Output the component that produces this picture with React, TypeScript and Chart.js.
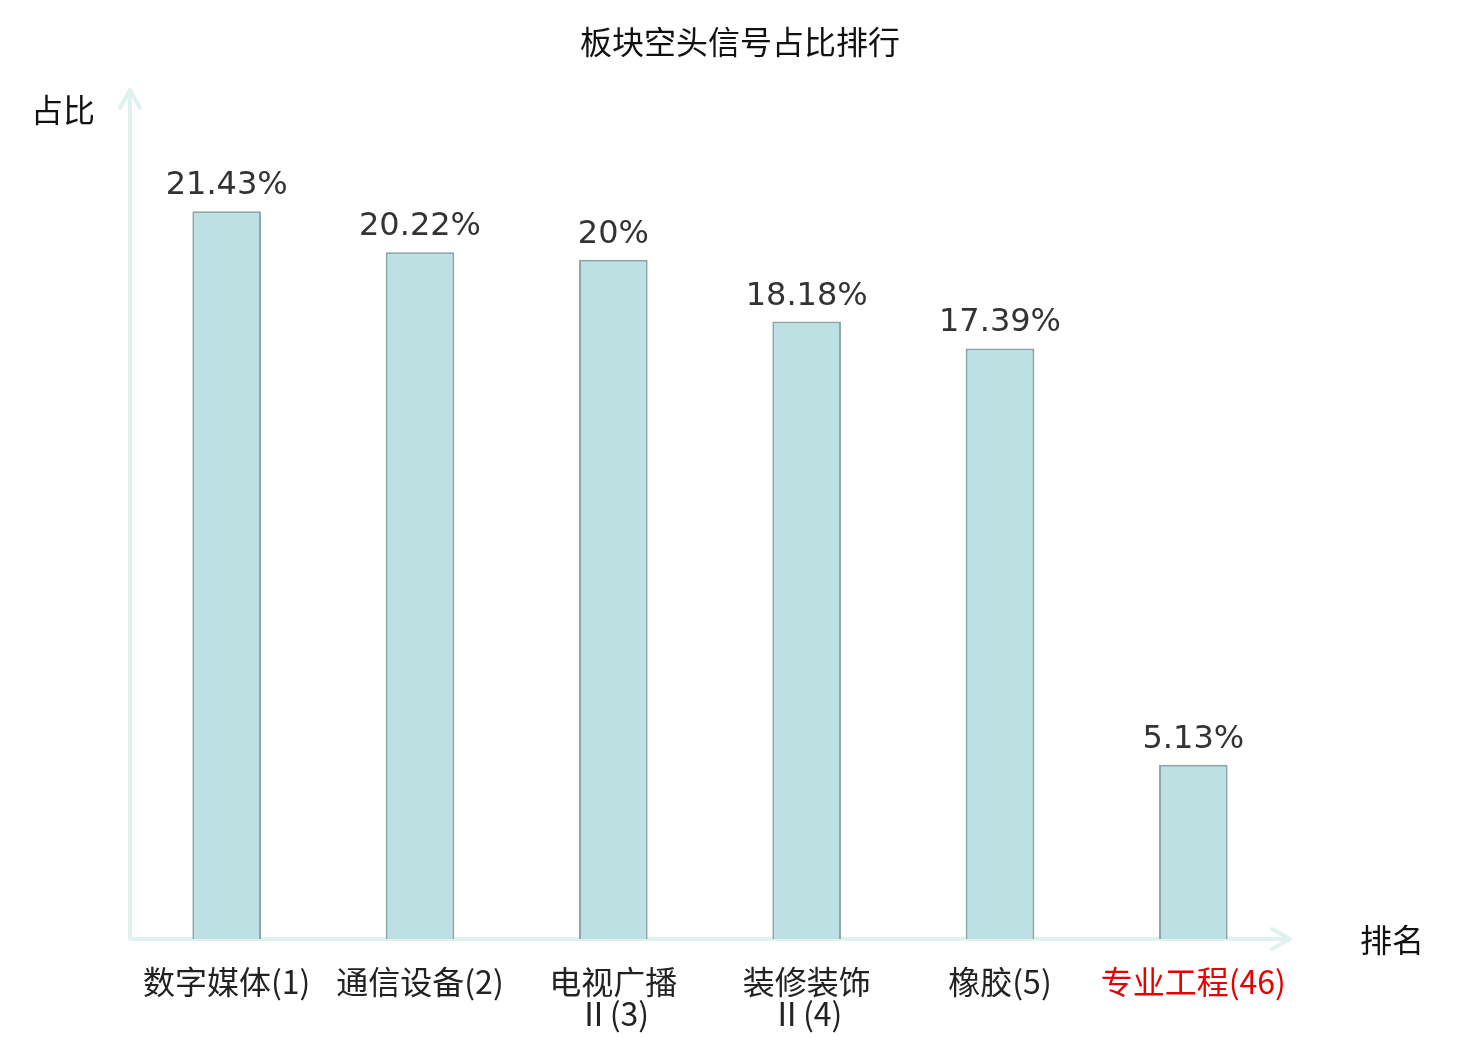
import { useEffect, useRef } from "react";
import { Chart, registerables } from "chart.js";

Chart.register(...registerables);

const categories: (string | string[])[] = [
  "数字媒体(1)",
  "通信设备(2)",
  ["电视广播", "Ⅱ(3)"],
  ["装修装饰", "Ⅱ(4)"],
  "橡胶(5)",
  "专业工程(46)",
];
const shares = [21.43, 20.22, 20, 18.18, 17.39, 5.13];
const shareLabels = ["21.43%", "20.22%", "20%", "18.18%", "17.39%", "5.13%"];
const labelColors = ["#222", "#222", "#222", "#222", "#222", "#e60000"];

const AXIS = "#dff2ef";
const CJK = "'Noto Sans CJK SC', sans-serif";

const decorations = {
  id: "decorations",
  beforeDatasetsDraw(chart: Chart) {
    const { ctx, chartArea: a } = chart;
    ctx.save();
    ctx.strokeStyle = AXIS;
    ctx.lineWidth = 4;
    ctx.lineCap = "round";
    ctx.lineJoin = "round";
    // y axis with arrow
    ctx.beginPath();
    ctx.moveTo(a.left, a.bottom);
    ctx.lineTo(a.left, a.top);
    ctx.moveTo(a.left - 10, a.top + 18);
    ctx.lineTo(a.left, a.top);
    ctx.lineTo(a.left + 10, a.top + 18);
    // x axis with arrow
    ctx.moveTo(a.left, a.bottom);
    ctx.lineTo(a.right, a.bottom);
    ctx.moveTo(a.right - 18, a.bottom - 10);
    ctx.lineTo(a.right, a.bottom);
    ctx.lineTo(a.right - 18, a.bottom + 10);
    ctx.stroke();
    ctx.restore();
  },
  afterDatasetsDraw(chart: Chart) {
    const { ctx, chartArea: a } = chart;
    ctx.save();
    ctx.fillStyle = "#111";
    ctx.font = `32px ${CJK}`;
    ctx.textAlign = "center";
    ctx.textBaseline = "middle";
    ctx.fillText("板块空头信号占比排行", 740, 42);
    ctx.fillText("占比", 63, 110);
    ctx.fillText("排名", 1392, a.bottom + 1);

    const meta = chart.getDatasetMeta(0);
    ctx.fillStyle = "#333";
    ctx.font = "32px 'DejaVu Sans', sans-serif";
    ctx.textBaseline = "alphabetic";
    meta.data.forEach((bar, i) => {
      ctx.fillText(shareLabels[i], bar.x, bar.y - 17);
    });
    ctx.restore();
  },
};

export default function App() {
  const canvasRef = useRef<HTMLCanvasElement | null>(null);
  const chartRef = useRef<Chart | null>(null);

  useEffect(() => {
    document.body.style.margin = "0";
    if (!canvasRef.current) return;
    const ctx = canvasRef.current.getContext("2d");
    if (!ctx) return;

    chartRef.current?.destroy();
    chartRef.current = new Chart(ctx, {
      type: "bar",
      data: {
        labels: categories,
        datasets: [
          {
            data: shares,
            backgroundColor: "#bde0e3",
            borderColor: "#8ba7a7",
            borderWidth: 2,
            barPercentage: 0.355,
            categoryPercentage: 1,
          },
        ],
      },
      options: {
        responsive: false,
        animation: false,
        layout: { padding: { top: 90, left: 130, right: 190, bottom: 0 } },
        plugins: {
          legend: { display: false },
          title: { display: false },
          tooltip: { enabled: false },
        },
        scales: {
          x: {
            grid: { display: false, drawTicks: false },
            border: { display: false },
            ticks: {
              autoSkip: false,
              maxRotation: 0,
              minRotation: 0,
              padding: 27,
              color: labelColors,
              font: { family: CJK, size: 32, lineHeight: "32px" },
            },
            afterFit: (scale) => {
              scale.height = 101;
            },
          },
          y: {
            display: false,
            min: 0,
            max: 25,
          },
        },
      },
      plugins: [decorations],
    });

    return () => {
      chartRef.current?.destroy();
      chartRef.current = null;
    };
  }, []);

  return (
    <div style={{ width: 1480, height: 1040, background: "#fff" }}>
      <canvas ref={canvasRef} width={1480} height={1040} />
    </div>
  );
}
